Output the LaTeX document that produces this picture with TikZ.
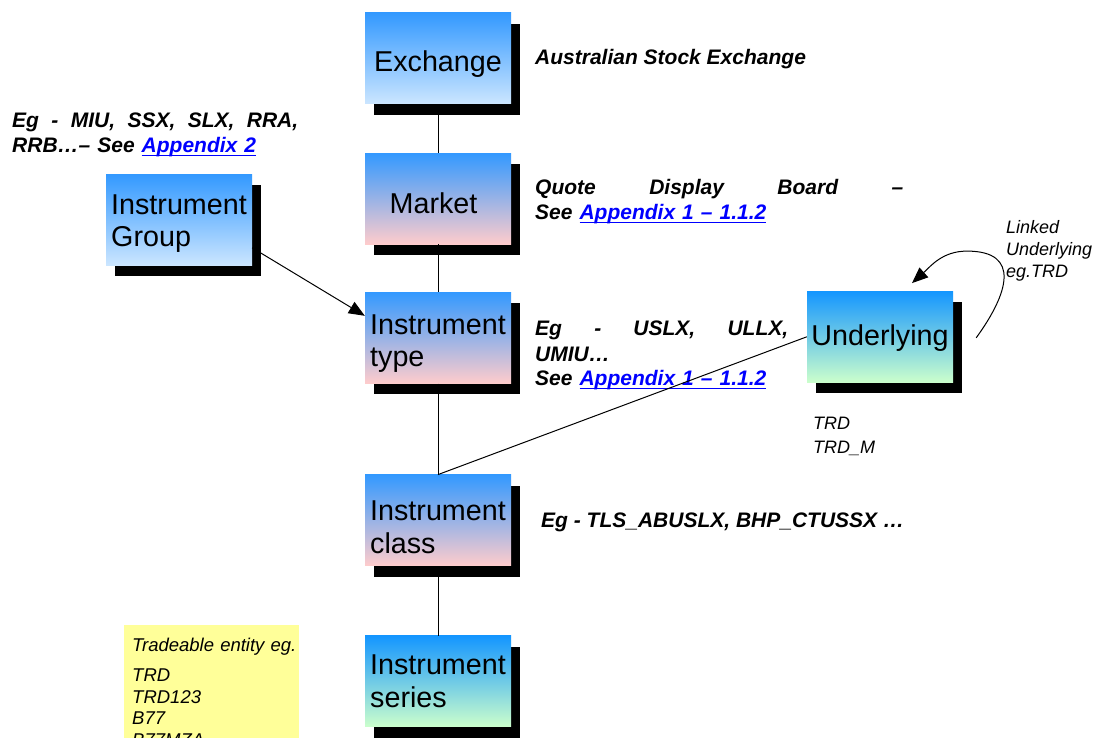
\documentclass[tikz,border=0pt]{standalone}
\usepackage{fontspec}
\setmainfont{Liberation Sans}
\usetikzlibrary{shadows,arrows.meta,calc}

\definecolor{boxblue}{RGB}{51,153,255}
\definecolor{boxsky}{RGB}{204,230,255}
\definecolor{boxpink}{RGB}{255,204,204}
\definecolor{boxdeep}{RGB}{20,150,255}
\definecolor{boxmint}{RGB}{204,255,204}
\definecolor{notefill}{RGB}{255,255,153}
\definecolor{linkblue}{RGB}{0,0,255}

% hyperlink-like text: blue with a rule just under the baseline
\newcommand{\applink}[1]{\textcolor{linkblue}{\setbox0\hbox{#1}\rlap{\rule[-3pt]{\wd0}{1.4pt}}\box0}}

\tikzset{
  entity/.style={minimum width=146pt, minimum height=91pt, inner sep=2pt,
    align=left, font=\fontsize{28.7}{32.5}\selectfont, text depth=6pt,
    drop shadow={shadow xshift=9pt, shadow yshift=-11pt, fill=black, opacity=1}},
  skyfade/.style={entity, top color=boxblue, bottom color=boxsky},
  pinkfade/.style={entity, top color=boxblue, bottom color=boxpink},
  mintfade/.style={entity, top color=boxdeep, bottom color=boxmint},
  remark/.style={anchor=base west, inner sep=0pt, align=left,
    font=\fontsize{21}{25}\selectfont\bfseries\itshape},
  aside/.style={anchor=base west, inner sep=0pt, align=left,
    font=\fontsize{18}{22}\selectfont\itshape},
  notebox/.style={fill=notefill, anchor=north west, align=left,
    inner xsep=8pt, inner ysep=5pt, text width=159pt,
    font=\fontsize{18.5}{21.5}\selectfont\itshape},
  link/.style={line width=1pt},
  pointer/.style={link, -{Triangle[length=16pt,width=13pt]}},
}

\begin{document}
\begin{tikzpicture}[x=1pt,y=-1pt]
  \path[fill=white, use as bounding box] (0,0) rectangle (1096,738);

  % hierarchy boxes
  \node[skyfade,  text height=32.4pt] (ex) at (438,58.5)  {Exchange};
  \node[pinkfade, text height=35.2pt] (mk) at (438,198.7) {Market\hspace{9pt}};
  \node[pinkfade, text height=63.8pt] (ty) at (438,337.8) {Instrument\\type};
  \node[pinkfade, text height=72pt]   (cl) at (438,520.3) {Instrument\\class};
  \node[mintfade, text height=57.8pt] (se) at (438,681.4) {Instrument\\series};
  \node[skyfade,  text height=59.8pt] (gr) at (179,219.8) {Instrument\\Group};
  \node[mintfade, text height=22.4pt] (un) at (880,336.8) {Underlying};

  % explanatory notes
  \node[remark] (exnote) at (535,65) {Australian Stock Exchange};
  \node[remark, text width=286pt] (grnote) at (12,128)
    {Eg\hfill-\hfill MIU,\hfill SSX,\hfill SLX,\hfill RRA,\\RRB…-- See \applink{Appendix 2}};
  \node[remark, text width=368pt] (mknote) at (535,195)
    {Quote\hfill Display\hfill Board\hfill --\\See \applink{Appendix 1 -- 1.1.2}};
  \node[remark, text width=253pt] (tynote) at (535,336)
    {Eg\hfill-\hfill USLX,\hfill ULLX,\\UMIU…\\See \applink{Appendix 1 -- 1.1.2}};
  \node[remark] (clnote) at (541,527) {Eg - TLS\_ABUSLX, BHP\_CTUSSX …};
  \node[aside, text width=100pt] (linked) at (1006,234) {Linked\\Underlying\\eg.TRD};
  \node[aside, text width=80pt, font=\fontsize{18}{24}\selectfont\itshape] (unnote) at (813,429) {TRD\\TRD\_M};
  \node[notebox] (note) at (124,625)
    {\hspace{2pt}\mbox{Tradeable entity eg.}\\[8.5pt]TRD\\TRD123\\B77\\B77MZA};

  % connectors
  \draw[link] (ex) -- (mk);
  \draw[link] (mk) -- (ty);
  \draw[link] (ty) -- (cl);
  \draw[link] (cl) -- (se);
  \draw[link] (un.west) -- (cl.north);
  \draw[pointer] ($(gr.east)+(0,28)$) -- ($(ty.west)+(0,-22)$);

  \coordinate (loopstart) at ($(un.east)+(23,1)$);
  \coordinate (looptop)   at ($(un.north)+(87,-40)$);
  \coordinate (looptip)   at ($(un.north)+(32,-8)$);
  \draw[pointer] (loopstart) to[out=54,in=0,looseness=1.6] (looptop)
                 to[out=180,in=42] (looptip);
\end{tikzpicture}
\end{document}
